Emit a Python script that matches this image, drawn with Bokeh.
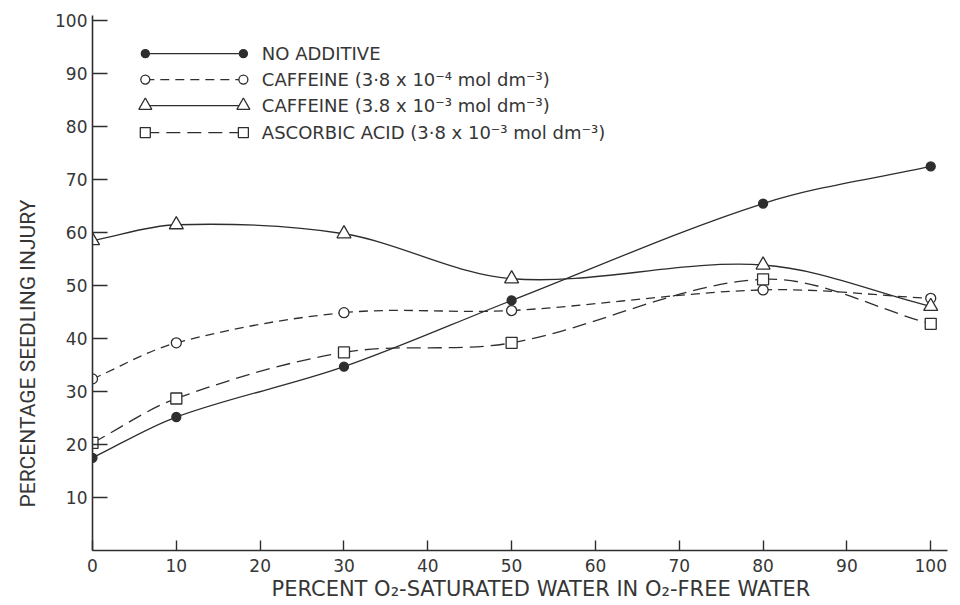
import numpy as np
from bokeh.plotting import figure
from bokeh.models import Range1d, FixedTicker, Label, ColumnDataSource, Title
from bokeh.embed import file_html
from bokeh.resources import INLINE

# ---- data ----
x_pct = [0, 10, 30, 50, 80, 100]
no_additive = [17.5, 25.2, 34.7, 47.2, 65.5, 72.5]
caffeine_lo = [32.4, 39.2, 44.9, 45.3, 49.2, 47.6]
caffeine_hi = [58.5, 61.5, 59.8, 51.3, 53.9, 46.1]
ascorbic = [20.3, 28.7, 37.4, 39.2, 51.2, 42.8]

series_names = [
    "NO ADDITIVE",
    "CAFFEINE (3·8 x 10⁻⁴ mol dm⁻³)",
    "CAFFEINE (3.8 x 10⁻³ mol dm⁻³)",
    "ASCORBIC ACID (3·8 x 10⁻³ mol dm⁻³)",
]
x_ticks = [0, 10, 20, 30, 40, 50, 60, 70, 80, 90, 100]
y_ticks = [10, 20, 30, 40, 50, 60, 70, 80, 90, 100]
x_title = "PERCENT O₂-SATURATED WATER IN O₂-FREE WATER"
y_title = "PERCENTAGE SEEDLING INJURY"

INK = "#2e2e2e"
TXT = "#363636"

p = figure(width=955, height=600, x_range=Range1d(0, 102), y_range=Range1d(0, 101),
           output_backend="svg", toolbar_location=None,
           min_border_left=92, min_border_right=8, min_border_top=15, min_border_bottom=50)
p.outline_line_color = None
p.xgrid.visible = False
p.ygrid.visible = False
p.background_fill_color = "white"

for ax in (p.xaxis[0], p.yaxis[0]):
    ax.axis_line_color = INK
    ax.axis_line_width = 1.6
    ax.major_tick_line_color = INK
    ax.major_tick_line_width = 1.4
    ax.minor_tick_line_color = None
    ax.major_tick_out = 0
    ax.major_label_text_font = "DejaVu Sans"
    ax.major_label_text_font_size = "17px"
    ax.major_label_text_color = TXT

p.xaxis.ticker = FixedTicker(ticks=x_ticks)
p.yaxis.ticker = FixedTicker(ticks=y_ticks)
p.xaxis.major_tick_in = 10
p.yaxis.major_tick_in = 15
p.xaxis.major_label_standoff = 8
p.yaxis.major_label_standoff = 5


def smooth_segments(xs, ys):
    xs = np.asarray(xs, float)
    ys = np.asarray(ys, float)
    n = len(xs)
    m = np.zeros(n)
    for i in range(n):
        if i == 0:
            m[i] = (ys[1] - ys[0]) / (xs[1] - xs[0])
        elif i == n - 1:
            m[i] = (ys[-1] - ys[-2]) / (xs[-1] - xs[-2])
        else:
            m[i] = (ys[i + 1] - ys[i - 1]) / (xs[i + 1] - xs[i - 1])
    h = xs[1:] - xs[:-1]
    return dict(
        x0=xs[:-1], y0=ys[:-1], x1=xs[1:], y1=ys[1:],
        cx0=xs[:-1] + h / 3, cy0=ys[:-1] + m[:-1] * h / 3,
        cx1=xs[1:] - h / 3, cy1=ys[1:] - m[1:] * h / 3,
    )


styles = [
    dict(ys=no_additive, dash="solid", marker="circle", size=9, fill=INK),
    dict(ys=caffeine_lo, dash="9 6", marker="circle", size=10, fill="white"),
    dict(ys=caffeine_hi, dash="solid", marker="triangle", size=14, fill="white"),
    dict(ys=ascorbic, dash="14 7", marker="square", size=11, fill="white"),
]

for st in styles:
    src = ColumnDataSource(smooth_segments(x_pct, st["ys"]))
    p.bezier(x0="x0", y0="y0", x1="x1", y1="y1", cx0="cx0", cy0="cy0", cx1="cx1", cy1="cy1",
             source=src, line_color=INK, line_width=1.3, line_dash=st["dash"])
    p.scatter(x_pct, st["ys"], marker=st["marker"], size=st["size"],
              fill_color=st["fill"], line_color=INK, line_width=1.3)

# ---- hand-drawn style legend (layout positions in data units) ----
leg_x0, leg_x1, leg_tx = 6.3, 18.0, 20.2
leg_rows = [93.8, 88.9, 84.0, 78.9]
for st, name, ry in zip(styles, series_names, leg_rows):
    p.line([leg_x0, leg_x1], [ry, ry], line_color=INK, line_width=1.3, line_dash=st["dash"])
    p.scatter([leg_x0, leg_x1], [ry, ry], marker=st["marker"], size=st["size"] - 1,
              fill_color=st["fill"], line_color=INK, line_width=1.3)
    p.add_layout(Label(x=leg_tx, y=ry, text=name, text_font="DejaVu Sans",
                       text_font_size="18px", text_color=TXT, text_baseline="middle"))

# ---- axis titles ----
p.add_layout(Title(text=y_title, align="left", offset=43, text_font="Roboto",
                   text_font_size="21px", text_color=TXT, text_font_style="normal",
                   standoff=26), "left")
p.add_layout(Title(text=x_title, align="left", offset=179, text_font="DejaVu Sans",
                   text_font_size="21px", text_color=TXT, text_font_style="normal",
                   standoff=0), "below")

open("out.html", "w").write(file_html(p, INLINE))
